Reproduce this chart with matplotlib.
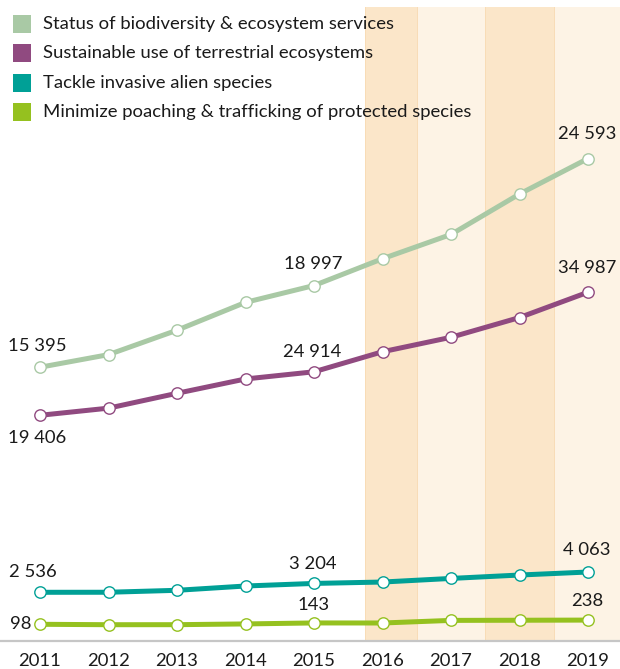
import matplotlib
matplotlib.use('Agg')
import matplotlib.pyplot as plt
from matplotlib.patches import Rectangle

plt.rcParams['font.family'] = ['Lato', 'DejaVu Sans']

years = [2011, 2012, 2013, 2014, 2015, 2016, 2017, 2018, 2019]
status = [15395, 15951, 17027, 18254, 18997, 20178, 21248, 23030, 24593]
sustainable = [19406, 20312, 22193, 24006, 24914, 27452, 29283, 31781, 34987]
invasive = [2536, 2540, 2686, 3010, 3204, 3309, 3580, 3836, 4063]
poaching = [98, 84, 85, 110, 143, 141, 228, 233, 238]

labels = ['Status of biodiversity & ecosystem services',
          'Sustainable use of terrestrial ecosystems',
          'Tackle invasive alien species',
          'Minimize poaching & trafficking of protected species']
colors = ['#a9c9a5', '#904a80', '#00a096', '#95c11f']
labelled = [0, 4, 8]

def fmt(v):
    return '{:,}'.format(v).replace(',', ' ')

W, H = 620, 669
fig = plt.figure(figsize=(W / 100, H / 100), dpi=100)
fig.patch.set_facecolor('white')

# main axes: bands, baseline and year labels
ax = fig.add_axes([0, 28 / H, 1, 634 / H])
ax.set_xlim(2010.416, 2019.467)
ax.set_ylim(0, 1)
bands = [(2015.75, 2016.5, '#fbe6c9'), (2016.5, 2017.5, '#fdf3e5'),
         (2017.5, 2018.5, '#fbe6c9'), (2018.5, 2019.467, '#fdf3e5')]
for x0, x1, c in bands:
    ax.axvspan(x0, x1, color=c, lw=0, zorder=0)
for x in [2015.75, 2016.5, 2017.5, 2018.5]:
    ax.axvline(x, color='#f8dcb6', lw=0.7, zorder=0.5)
for s in ['top', 'left', 'right']:
    ax.spines[s].set_visible(False)
ax.spines['bottom'].set_color('#c6c6c6')
ax.spines['bottom'].set_linewidth(1.6)
ax.set_yticks([])
ax.set_xticks(years)
ax.set_xticklabels([str(y) for y in years], fontsize=13.3, color='#1a1a1a')
ax.tick_params(axis='x', length=0, pad=9)

# one y scale per series (schematic chart)
series = [status, sustainable, invasive, poaching]
ylims = [(3330, 31272), (-9163, 71090), (-1128, 46577), (-459, 20675)]
# label offsets in pixels (dx, dy) for 2011, 2015, 2019
offsets = [
    [(-2.5, 21), (-1, 22), (-1, 25)],
    [(-2.5, -23), (-2, 20), (-1, 24)],
    [(-7, 20), (-1, 19), (-1, 22)],
    [(-9, 0), (0, 17.5), (-1, 19)],
]

for vals, lim, c, offs in zip(series, ylims, colors, offsets):
    tw = ax.twinx()
    tw.set_ylim(*lim)
    tw.axis('off')
    tw.plot(years, vals, color=c, lw=3.6, solid_capstyle='round',
            marker='o', ms=8.2, mfc='white', mec=c, mew=1.0, clip_on=False, zorder=3)
    for i, (dx, dy) in zip(labelled, offs):
        ha = 'center'
        if c == colors[3] and i == 0:
            ha = 'right'
        tw.annotate(fmt(vals[i]), (years[i], vals[i]), xytext=(dx, dy),
                    textcoords='offset pixels', ha=ha, va='center',
                    fontsize=13.3, color='#1a1a1a', annotation_clip=False)

# legend drawn as squares and text
for k, (lab, c) in enumerate(zip(labels, colors)):
    yc = 24 + k * 29.4
    fig.add_artist(Rectangle((13 / W, 1 - (yc + 9) / H), 18 / W, 18 / H,
                             transform=fig.transFigure, color=c, lw=0))
    fig.text(43 / W, 1 - yc / H, lab, ha='left', va='center',
             fontsize=13.3, color='#1a1a1a')

fig.savefig('out.png', dpi=100)
